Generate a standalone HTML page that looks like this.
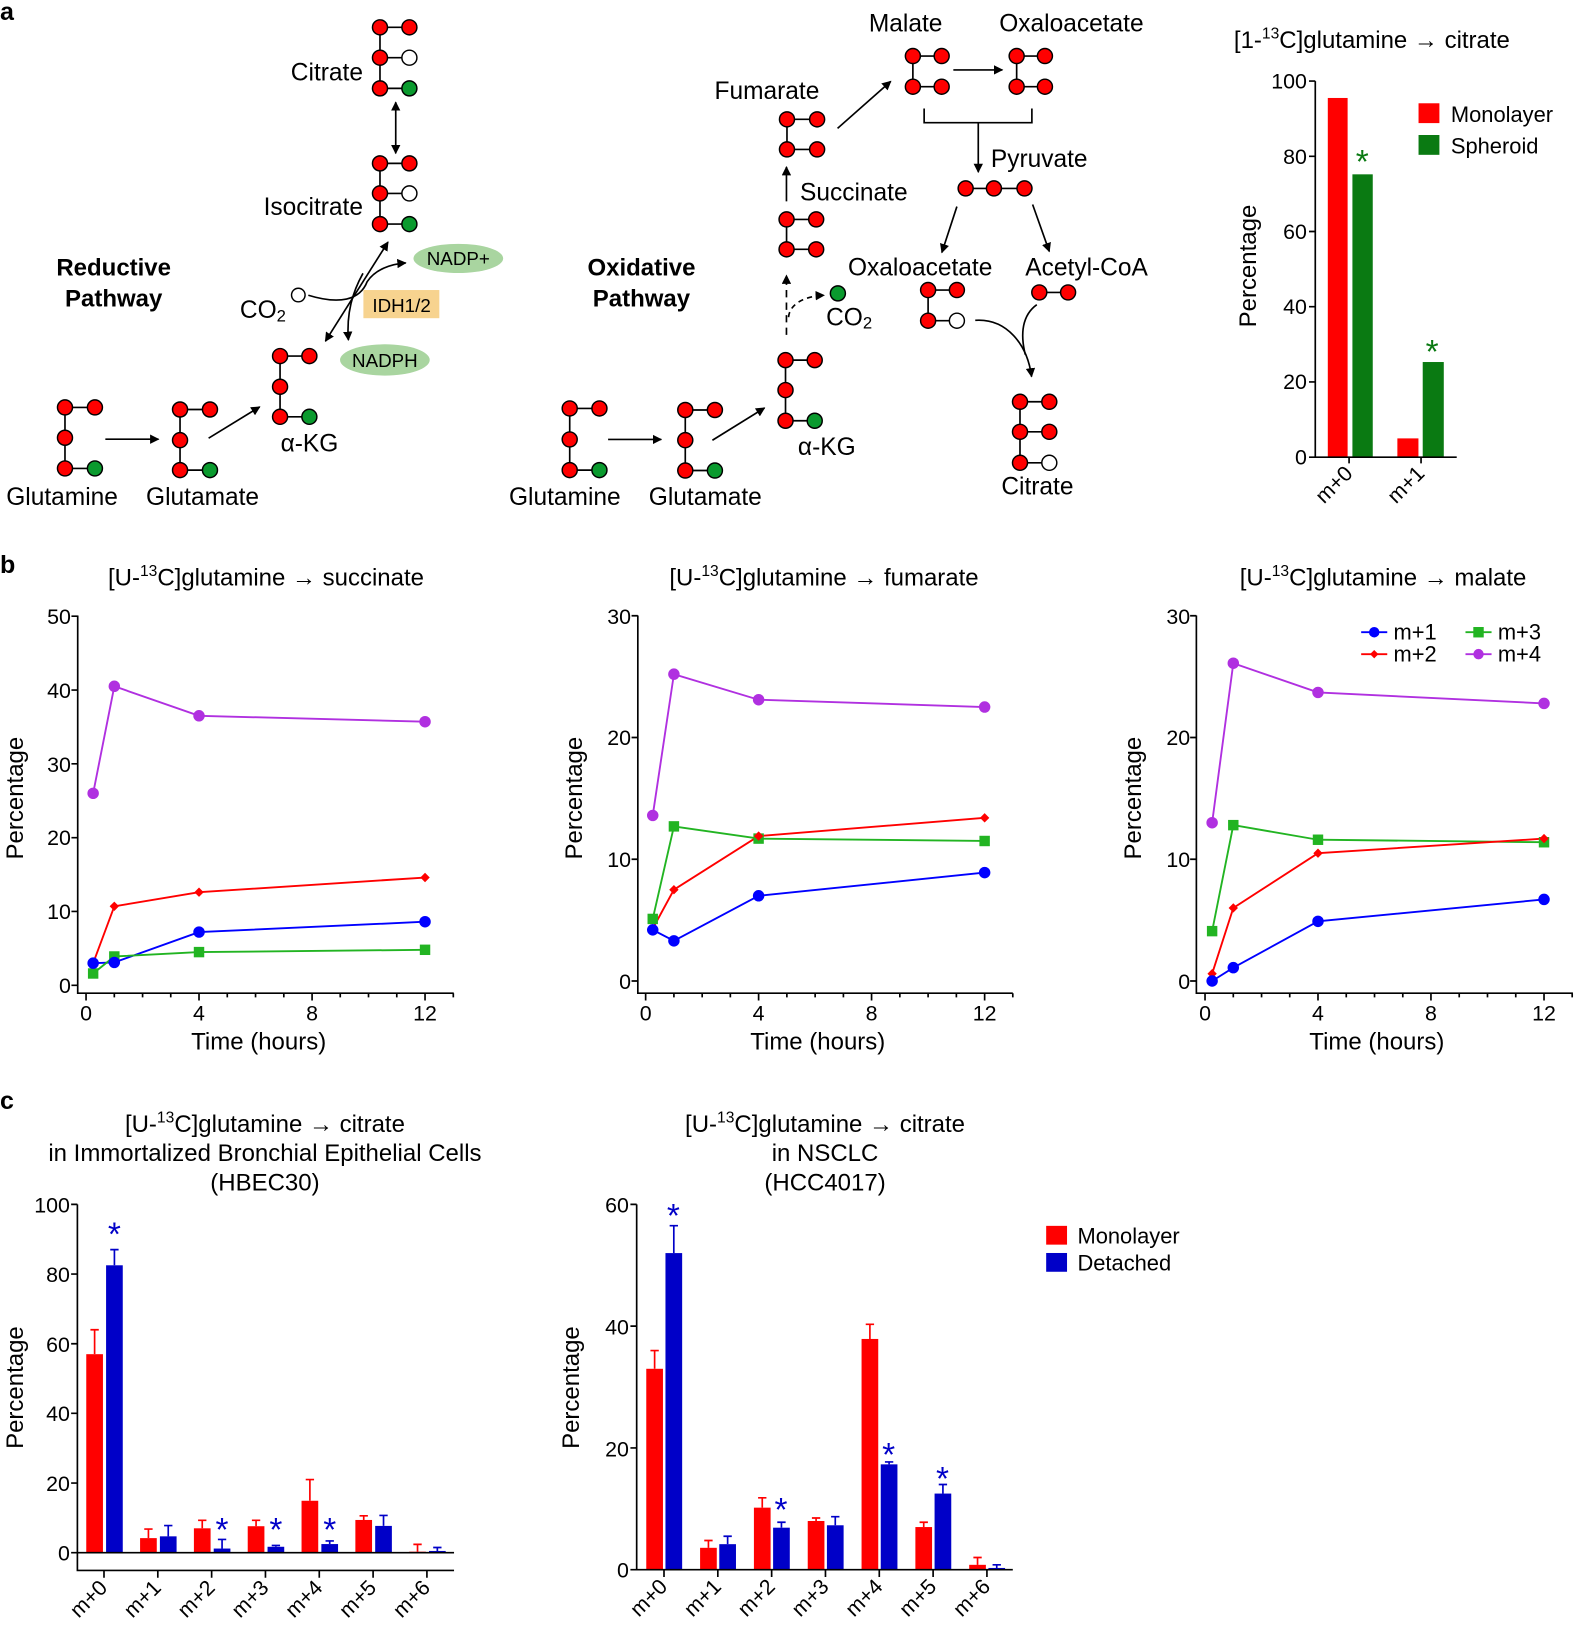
<!DOCTYPE html>
<html><head><meta charset="utf-8"><style>html,body{margin:0;padding:0;background:#fff}svg{display:block}</style></head><body>
<svg width="1575" height="1639" viewBox="0 0 1510 1571" preserveAspectRatio="none" xmlns="http://www.w3.org/2000/svg" font-family="Liberation Sans, Arial, sans-serif">
<defs>
<marker id="ah" viewBox="0 0 10 10" refX="9" refY="5" markerWidth="9" markerHeight="9" markerUnits="userSpaceOnUse" orient="auto-start-reverse"><path d="M0,0 L10,5 L0,10 z" fill="#000"/></marker>
</defs>
<rect width="1510" height="1571" fill="#fff"/>
<g font-weight="bold" font-size="24"><text x="0" y="19">a</text><text x="0" y="549">b</text><text x="0" y="1063">c</text></g>

<!-- ===== Reductive pathway ===== -->
<g stroke="#000" stroke-width="1.6" fill="none">
<path d="M62.3,390.5V449M62.3,390.5H91M62.3,449H91"/>
<path d="M172.6,392.5V450.6M172.6,392.5H201.3M172.6,450.6H201.3"/>
<path d="M268.5,341.3V399.5M268.5,341.3H296.6M268.5,399.5H296.6"/>
<path d="M364.3,156.6V214.8M364.3,156.6H392.5M364.3,185.4H392.5M364.3,214.8H392.5"/>
<path d="M364.3,26.2V84.7M364.3,26.2H392.5M364.3,55.3H392.5M364.3,84.7H392.5"/>
<path d="M101,421H152" marker-end="url(#ah)"/>
<path d="M200,420L249,390" marker-end="url(#ah)"/>
<path d="M379.4,98V147" marker-start="url(#ah)" marker-end="url(#ah)"/>
<path d="M312,327L372,232" marker-start="url(#ah)" marker-end="url(#ah)"/>
<path d="M295.6,283 C325,292 345,288 352,270 C360,258 375,253 389,252" marker-end="url(#ah)"/>
<path d="M348,262 C338,280 332,300 334,326" marker-end="url(#ah)"/>
</g>
<g stroke="#000" stroke-width="1.4">
<circle cx="62.3" cy="390.5" r="7.2" fill="#f00"/><circle cx="62.3" cy="419.6" r="7.2" fill="#f00"/><circle cx="62.3" cy="449" r="7.2" fill="#f00"/><circle cx="91" cy="390.5" r="7.2" fill="#f00"/><circle cx="91" cy="449" r="7.2" fill="#0a9a2e"/>
<circle cx="172.6" cy="392.5" r="7.2" fill="#f00"/><circle cx="172.6" cy="421.9" r="7.2" fill="#f00"/><circle cx="172.6" cy="450.6" r="7.2" fill="#f00"/><circle cx="201.3" cy="392.5" r="7.2" fill="#f00"/><circle cx="201.3" cy="450.6" r="7.2" fill="#0a9a2e"/>
<circle cx="268.5" cy="341.3" r="7.2" fill="#f00"/><circle cx="268.5" cy="370.7" r="7.2" fill="#f00"/><circle cx="268.5" cy="399.5" r="7.2" fill="#f00"/><circle cx="296.6" cy="341.3" r="7.2" fill="#f00"/><circle cx="296.6" cy="399.5" r="7.2" fill="#0a9a2e"/>
<circle cx="364.3" cy="156.6" r="7.2" fill="#f00"/><circle cx="364.3" cy="185.4" r="7.2" fill="#f00"/><circle cx="364.3" cy="214.8" r="7.2" fill="#f00"/><circle cx="392.5" cy="156.6" r="7.2" fill="#f00"/><circle cx="392.5" cy="185.4" r="7.2" fill="#fff"/><circle cx="392.5" cy="214.8" r="7.2" fill="#0a9a2e"/>
<circle cx="364.3" cy="26.2" r="7.2" fill="#f00"/><circle cx="364.3" cy="55.3" r="7.2" fill="#f00"/><circle cx="364.3" cy="84.7" r="7.2" fill="#f00"/><circle cx="392.5" cy="26.2" r="7.2" fill="#f00"/><circle cx="392.5" cy="55.3" r="7.2" fill="#fff"/><circle cx="392.5" cy="84.7" r="7.2" fill="#0a9a2e"/>
<circle cx="286" cy="282.8" r="6.5" fill="#fff"/>
</g>
<ellipse cx="439.4" cy="247.7" rx="43" ry="14" fill="#a9d5a0"/>
<ellipse cx="369" cy="345" rx="43" ry="15" fill="#a9d5a0"/>
<rect x="348.4" y="278" width="72.8" height="27" fill="#f7d38f"/>
<g font-size="23.5" fill="#000">
<text x="6" y="484">Glutamine</text><text x="140" y="484">Glutamate</text>
<text x="269" y="433">α-KG</text>
<text x="348" y="206" text-anchor="end">Isocitrate</text>
<text x="348" y="77" text-anchor="end">Citrate</text>
<text x="230" y="305">CO<tspan font-size="16" dy="3">2</tspan></text>
</g>
<g font-size="18" text-anchor="middle"><text x="385" y="299">IDH1/2</text><text x="439.4" y="254">NADP+</text><text x="369" y="352">NADPH</text></g>
<g font-size="23" font-weight="bold" text-anchor="middle"><text x="109" y="264">Reductive</text><text x="109" y="294">Pathway</text><text x="615" y="264">Oxidative</text><text x="615" y="294">Pathway</text></g>

<!-- ===== Oxidative pathway ===== -->
<g stroke="#000" stroke-width="1.6" fill="none">
<path d="M546.2,391.5V450.6M546.2,391.5H574.7M546.2,450.6H574.7"/>
<path d="M657,393V451M657,393H685.4M657,451H685.4"/>
<path d="M753.1,345.2V403.3M753.1,345.2H781.1M753.1,403.3H781.1"/>
<path d="M754.1,210.3V239M754.1,210.3H782.5M754.1,239H782.5"/>
<path d="M754.5,114.4V143.2M754.5,114.4H783.4M754.5,143.2H783.4"/>
<path d="M875.2,53.7V83.1M875.2,53.7H902.8M875.2,83.1H902.8"/>
<path d="M974.7,53.7V83.1M974.7,53.7H1001.8M974.7,83.1H1001.8"/>
<path d="M925.8,180.6H982.2"/>
<path d="M889.8,278V307.4M889.8,278H917.4M889.8,307.4H917.4"/>
<path d="M996.4,280.3H1024"/>
<path d="M977.9,385.1V443.6M977.9,385.1H1006M977.9,413.9H1006M977.9,443.6H1006"/>
<path d="M583,421.2H634" marker-end="url(#ah)"/>
<path d="M683,422L733,391" marker-end="url(#ah)"/>
<path d="M754,321V264" stroke-dasharray="7,5" marker-end="url(#ah)"/>
<path d="M756,304 C757,292 770,284 790,283" stroke-dasharray="5,4" marker-end="url(#ah)"/>
<path d="M754,193V160" marker-end="url(#ah)"/>
<path d="M803,123L854,78" marker-end="url(#ah)"/>
<path d="M914,67H961" marker-end="url(#ah)"/>
<path d="M886,104V117.6H989.3V104M937.9,117.6V165" marker-end="url(#ah)"/>
<path d="M917.4,198L903,242" marker-end="url(#ah)"/>
<path d="M990,196L1006,241" marker-end="url(#ah)"/>
<path d="M935,307 C965,305 985,330 989,361" marker-end="url(#ah)"/>
<path d="M994,292 C980,302 978,320 983,340"/>
</g>
<g stroke="#000" stroke-width="1.4">
<circle cx="546.2" cy="391.5" r="7.2" fill="#f00"/><circle cx="546.2" cy="421.2" r="7.2" fill="#f00"/><circle cx="546.2" cy="450.6" r="7.2" fill="#f00"/><circle cx="574.7" cy="391.5" r="7.2" fill="#f00"/><circle cx="574.7" cy="450.6" r="7.2" fill="#0a9a2e"/>
<circle cx="657" cy="393" r="7.2" fill="#f00"/><circle cx="657" cy="421.9" r="7.2" fill="#f00"/><circle cx="657" cy="451" r="7.2" fill="#f00"/><circle cx="685.4" cy="393" r="7.2" fill="#f00"/><circle cx="685.4" cy="451" r="7.2" fill="#0a9a2e"/>
<circle cx="753.1" cy="345.2" r="7.2" fill="#f00"/><circle cx="753.1" cy="373.9" r="7.2" fill="#f00"/><circle cx="753.1" cy="403.3" r="7.2" fill="#f00"/><circle cx="781.1" cy="345.2" r="7.2" fill="#f00"/><circle cx="781.1" cy="403.3" r="7.2" fill="#0a9a2e"/>
<circle cx="754.1" cy="210.3" r="7.2" fill="#f00"/><circle cx="754.1" cy="239" r="7.2" fill="#f00"/><circle cx="782.5" cy="210.3" r="7.2" fill="#f00"/><circle cx="782.5" cy="239" r="7.2" fill="#f00"/>
<circle cx="754.5" cy="114.4" r="7.2" fill="#f00"/><circle cx="754.5" cy="143.2" r="7.2" fill="#f00"/><circle cx="783.4" cy="114.4" r="7.2" fill="#f00"/><circle cx="783.4" cy="143.2" r="7.2" fill="#f00"/>
<circle cx="875.2" cy="53.7" r="7.2" fill="#f00"/><circle cx="875.2" cy="83.1" r="7.2" fill="#f00"/><circle cx="902.8" cy="53.7" r="7.2" fill="#f00"/><circle cx="902.8" cy="83.1" r="7.2" fill="#f00"/>
<circle cx="974.7" cy="53.7" r="7.2" fill="#f00"/><circle cx="974.7" cy="83.1" r="7.2" fill="#f00"/><circle cx="1001.8" cy="53.7" r="7.2" fill="#f00"/><circle cx="1001.8" cy="83.1" r="7.2" fill="#f00"/>
<circle cx="925.8" cy="180.6" r="7.2" fill="#f00"/><circle cx="952.9" cy="180.6" r="7.2" fill="#f00"/><circle cx="982.2" cy="180.6" r="7.2" fill="#f00"/>
<circle cx="889.8" cy="278" r="7.2" fill="#f00"/><circle cx="889.8" cy="307.4" r="7.2" fill="#f00"/><circle cx="917.4" cy="278" r="7.2" fill="#f00"/><circle cx="917.4" cy="307.4" r="7.2" fill="#fff"/>
<circle cx="996.4" cy="280.3" r="7.2" fill="#f00"/><circle cx="1024" cy="280.3" r="7.2" fill="#f00"/>
<circle cx="977.9" cy="385.1" r="7.2" fill="#f00"/><circle cx="977.9" cy="413.9" r="7.2" fill="#f00"/><circle cx="977.9" cy="443.6" r="7.2" fill="#f00"/><circle cx="1006" cy="385.1" r="7.2" fill="#f00"/><circle cx="1006" cy="413.9" r="7.2" fill="#f00"/><circle cx="1006" cy="443.6" r="7.2" fill="#fff"/>
<circle cx="803.3" cy="281.2" r="7.2" fill="#0a9a2e"/>
</g>
<g font-size="23.5">
<text x="488" y="484">Glutamine</text><text x="622" y="484">Glutamate</text>
<text x="765" y="436">α-KG</text>
<text x="792" y="312">CO<tspan font-size="16" dy="3">2</tspan></text>
<text x="767" y="192">Succinate</text>
<text x="685" y="95">Fumarate</text>
<text x="833" y="30">Malate</text>
<text x="958" y="30">Oxaloacetate</text>
<text x="950" y="160">Pyruvate</text>
<text x="813" y="264">Oxaloacetate</text>
<text x="983" y="264">Acetyl-CoA</text>
<text x="960" y="474">Citrate</text>
</g>

<!-- ===== a bar chart ===== -->
<text x="1183" y="46" font-size="23">[1-<tspan font-size="15" dy="-9">13</tspan><tspan dy="9">C]glutamine → citrate</tspan></text>
<rect x="1273" y="93.9" width="19" height="344.3" fill="#f00"/>
<rect x="1296.6" y="167.1" width="19.5" height="271.1" fill="#0a7a12"/>
<rect x="1339.7" y="420.2" width="20.2" height="18" fill="#f00"/>
<rect x="1364" y="347" width="20.2" height="91.2" fill="#0a7a12"/>
<g stroke="#000" stroke-width="1.6" fill="none"><path d="M1261,77.7V438.2H1396.6"/>
<path d="M1255,77.7h6M1255,149.8h6M1255,221.9h6M1255,294h6M1255,366.1h6M1255,438.2h6M1293.4,438.2v6M1362.4,438.2v6"/></g>
<g font-size="20.5" text-anchor="end"><text x="1253" y="85">100</text><text x="1253" y="157">80</text><text x="1253" y="229">60</text><text x="1253" y="301">40</text><text x="1253" y="373">20</text><text x="1253" y="445">0</text>
<text transform="translate(1298,455) rotate(-45)">m+0</text><text transform="translate(1367,455) rotate(-45)">m+1</text></g>
<text transform="translate(1204,255) rotate(-90)" font-size="23" text-anchor="middle">Percentage</text>
<g font-size="32" fill="#0a7a12" text-anchor="middle"><text x="1306" y="166">*</text><text x="1373" y="348">*</text></g>
<rect x="1360" y="99" width="20" height="19" fill="#f00"/><rect x="1360" y="129.4" width="20" height="19" fill="#0a7a12"/>
<g font-size="21"><text x="1391" y="117">Monolayer</text><text x="1391" y="147">Spheroid</text></g>

<!-- ===== b charts ===== -->
<g font-size="23" text-anchor="middle">
<text x="255" y="561">[U-<tspan font-size="15" dy="-9">13</tspan><tspan dy="9">C]glutamine → succinate</tspan></text>
<text x="790" y="561">[U-<tspan font-size="15" dy="-9">13</tspan><tspan dy="9">C]glutamine → fumarate</tspan></text>
<text x="1326" y="561">[U-<tspan font-size="15" dy="-9">13</tspan><tspan dy="9">C]glutamine → malate</tspan></text>
</g>
<g stroke="#000" stroke-width="1.6" fill="none">
<path d="M74.5,590V952H435"/>
<path d="M68.5,590.6h6M68.5,661.4h6M68.5,732.1h6M68.5,802.9h6M68.5,873.6h6M68.5,944.4h6"/>
<path d="M82.5,952v7M190.8,952v7M299.2,952v7M407.5,952v7"/>
<path d="M109.6,952v4M136.7,952v4M163.7,952v4M217.9,952v4M245,952v4M272.1,952v4M326.2,952v4M353.3,952v4M380.4,952v4M434.6,952v4"/>
<path d="M611.5,590V952H971"/>
<path d="M605.5,590.2h6M605.5,706.9h6M605.5,823.6h6M605.5,940.3h6"/>
<path d="M619,952v7M727.3,952v7M835.6,952v7M944,952v7"/>
<path d="M646.1,952v4M673.2,952v4M700.2,952v4M754.4,952v4M781.5,952v4M808.6,952v4M862.7,952v4M889.8,952v4M916.9,952v4M971,952v4"/>
<path d="M1147,590V952H1508"/>
<path d="M1141,590.2h6M1141,706.9h6M1141,823.6h6M1141,940.3h6"/>
<path d="M1155.3,952v7M1263.6,952v7M1371.9,952v7M1480.3,952v7"/>
<path d="M1182.4,952v4M1209.5,952v4M1236.5,952v4M1290.7,952v4M1317.8,952v4M1344.9,952v4M1399,952v4M1426.1,952v4M1453.2,952v4M1507.3,952v4"/>
</g>
<g font-size="20.5">
<g text-anchor="end"><text x="68" y="598">50</text><text x="68" y="669">40</text><text x="68" y="740">30</text><text x="68" y="810">20</text><text x="68" y="881">10</text><text x="68" y="952">0</text>
<text x="605" y="598">30</text><text x="605" y="714">20</text><text x="605" y="831">10</text><text x="605" y="948">0</text>
<text x="1141" y="598">30</text><text x="1141" y="714">20</text><text x="1141" y="831">10</text><text x="1141" y="948">0</text></g>
<g text-anchor="middle"><text x="82.5" y="978">0</text><text x="190.8" y="978">4</text><text x="299.2" y="978">8</text><text x="407.5" y="978">12</text>
<text x="619" y="978">0</text><text x="727.3" y="978">4</text><text x="835.6" y="978">8</text><text x="944" y="978">12</text>
<text x="1155.3" y="978">0</text><text x="1263.6" y="978">4</text><text x="1371.9" y="978">8</text><text x="1480.3" y="978">12</text></g>
</g>
<g font-size="23" text-anchor="middle"><text x="248" y="1006">Time (hours)</text><text x="784" y="1006">Time (hours)</text><text x="1320" y="1006">Time (hours)</text>
<text transform="translate(22,765) rotate(-90)">Percentage</text><text transform="translate(558,765) rotate(-90)">Percentage</text><text transform="translate(1094,765) rotate(-90)">Percentage</text></g>

<g fill="none" stroke-width="1.8">
<polyline stroke="#b030e0" points="89.3,760.4 109.6,657.8 190.8,686.1 407.5,691.8"/>
<polyline stroke="#f00" points="89.3,923.2 109.6,868.7 190.8,855.2 407.5,841.1"/>
<polyline stroke="#00f" points="89.3,923.2 109.6,922.5 190.8,893.4 407.5,883.5"/>
<polyline stroke="#22b422" points="89.3,933.1 109.6,916.8 190.8,912.6 407.5,910.4"/>
<polyline stroke="#b030e0" points="625.8,781.6 646.1,646.2 727.3,670.7 944,677.7"/>
<polyline stroke="#22b422" points="625.8,880.8 646.1,792.1 727.3,803.8 944,806.1"/>
<polyline stroke="#f00" points="625.8,890.1 646.1,852.8 727.3,801.4 944,783.9"/>
<polyline stroke="#00f" points="625.8,891.3 646.1,901.8 727.3,858.6 944,836.4"/>
<polyline stroke="#b030e0" points="1162.1,788.6 1182.4,635.7 1263.6,663.7 1480.3,674.2"/>
<polyline stroke="#22b422" points="1162.1,892.5 1182.4,790.9 1263.6,804.9 1480.3,807.3"/>
<polyline stroke="#f00" points="1162.1,933.3 1182.4,870.3 1263.6,817.8 1480.3,803.8"/>
<polyline stroke="#00f" points="1162.1,940.3 1182.4,927.5 1263.6,883.1 1480.3,862.1"/>
</g>
<g>
<g fill="#b030e0"><circle cx="89.3" cy="760.4" r="5.5"/><circle cx="109.6" cy="657.8" r="5.5"/><circle cx="190.8" cy="686.1" r="5.5"/><circle cx="407.5" cy="691.8" r="5.5"/>
<circle cx="625.8" cy="781.6" r="5.5"/><circle cx="646.1" cy="646.2" r="5.5"/><circle cx="727.3" cy="670.7" r="5.5"/><circle cx="944" cy="677.7" r="5.5"/>
<circle cx="1162.1" cy="788.6" r="5.5"/><circle cx="1182.4" cy="635.7" r="5.5"/><circle cx="1263.6" cy="663.7" r="5.5"/><circle cx="1480.3" cy="674.2" r="5.5"/></g>
<g fill="#22b422"><rect x="84.3" y="928.1" width="10" height="10"/><rect x="104.6" y="911.8" width="10" height="10"/><rect x="185.8" y="907.6" width="10" height="10"/><rect x="402.5" y="905.4" width="10" height="10"/>
<rect x="620.8" y="875.8" width="10" height="10"/><rect x="641.1" y="787.1" width="10" height="10"/><rect x="722.3" y="798.8" width="10" height="10"/><rect x="939" y="801.1" width="10" height="10"/>
<rect x="1157.1" y="887.5" width="10" height="10"/><rect x="1177.4" y="785.9" width="10" height="10"/><rect x="1258.6" y="799.9" width="10" height="10"/><rect x="1475.3" y="802.3" width="10" height="10"/></g>
<g fill="#f00"><path d="M89.3,918.7l4.5,4.5l-4.5,4.5l-4.5,-4.5z M109.6,864.2l4.5,4.5l-4.5,4.5l-4.5,-4.5z M190.8,850.7l4.5,4.5l-4.5,4.5l-4.5,-4.5z M407.5,836.6l4.5,4.5l-4.5,4.5l-4.5,-4.5z
M625.8,885.6l4.5,4.5l-4.5,4.5l-4.5,-4.5z M646.1,848.3l4.5,4.5l-4.5,4.5l-4.5,-4.5z M727.3,796.9l4.5,4.5l-4.5,4.5l-4.5,-4.5z M944,779.4l4.5,4.5l-4.5,4.5l-4.5,-4.5z
M1162.1,928.8l4.5,4.5l-4.5,4.5l-4.5,-4.5z M1182.4,865.8l4.5,4.5l-4.5,4.5l-4.5,-4.5z M1263.6,813.3l4.5,4.5l-4.5,4.5l-4.5,-4.5z M1480.3,799.3l4.5,4.5l-4.5,4.5l-4.5,-4.5z"/></g>
<g fill="#00f"><circle cx="89.3" cy="923.2" r="5.5"/><circle cx="109.6" cy="922.5" r="5.5"/><circle cx="190.8" cy="893.4" r="5.5"/><circle cx="407.5" cy="883.5" r="5.5"/>
<circle cx="625.8" cy="891.3" r="5.5"/><circle cx="646.1" cy="901.8" r="5.5"/><circle cx="727.3" cy="858.6" r="5.5"/><circle cx="944" cy="836.4" r="5.5"/>
<circle cx="1162.1" cy="940.3" r="5.5"/><circle cx="1182.4" cy="927.5" r="5.5"/><circle cx="1263.6" cy="883.1" r="5.5"/><circle cx="1480.3" cy="862.1" r="5.5"/></g>
</g>
<g stroke-width="1.8"><line x1="1305" y1="606" x2="1330" y2="606" stroke="#00f"/><circle cx="1317.5" cy="606" r="5" fill="#00f"/>
<line x1="1305" y1="627" x2="1330" y2="627" stroke="#f00"/><path d="M1317.5,623l4,4l-4,4l-4,-4z" fill="#f00"/>
<line x1="1405" y1="606" x2="1430" y2="606" stroke="#22b422"/><rect x="1412.5" y="601" width="10" height="10" fill="#22b422"/>
<line x1="1405" y1="627" x2="1430" y2="627" stroke="#b030e0"/><circle cx="1417.5" cy="627" r="5" fill="#b030e0"/></g>
<g font-size="21"><text x="1336" y="613">m+1</text><text x="1336" y="634">m+2</text><text x="1436" y="613">m+3</text><text x="1436" y="634">m+4</text></g>

<!-- ===== c charts ===== -->
<g font-size="23" text-anchor="middle">
<text x="254" y="1085">[U-<tspan font-size="15" dy="-9">13</tspan><tspan dy="9">C]glutamine → citrate</tspan></text>
<text x="254" y="1113">in Immortalized Bronchial Epithelial Cells</text>
<text x="254" y="1141">(HBEC30)</text>
<text x="791" y="1085">[U-<tspan font-size="15" dy="-9">13</tspan><tspan dy="9">C]glutamine → citrate</tspan></text>
<text x="791" y="1113">in NSCLC</text>
<text x="791" y="1141">(HCC4017)</text>
<text transform="translate(22,1330) rotate(-90)">Percentage</text>
<text transform="translate(555,1330) rotate(-90)">Percentage</text>
</g>
<g fill="#f00">
<rect x="82.7" y="1298" width="16" height="190.3"/><rect x="134.3" y="1474.3" width="16" height="14"/><rect x="185.9" y="1464.9" width="16" height="23.4"/><rect x="237.5" y="1462.9" width="16" height="25.4"/><rect x="289.1" y="1438.5" width="16" height="49.8"/><rect x="340.7" y="1456.9" width="16" height="31.4"/><rect x="392.3" y="1487.3" width="16" height="1"/>
</g>
<g fill="#0000c8">
<rect x="101.7" y="1212.8" width="16" height="275.5"/><rect x="153.3" y="1472.6" width="16" height="15.7"/><rect x="204.9" y="1484.3" width="16" height="4"/><rect x="256.5" y="1482.6" width="16" height="5.7"/><rect x="308.1" y="1480" width="16" height="8.3"/><rect x="359.7" y="1462.6" width="16" height="25.7"/><rect x="411.3" y="1486.6" width="16" height="1.7"/>
</g>
<g stroke="#f00" stroke-width="1.6" fill="none"><path d="M90.7,1298V1274.6m-4,0h8M142.3,1474.3V1465.6m-4,0h8M193.9,1464.9V1457.2m-4,0h8M245.5,1462.9V1457.2m-4,0h8M297.1,1438.5V1418.2m-4,0h8M348.7,1456.9V1452.9m-4,0h8M400.3,1487.3V1480.3m-4,0h8"/></g>
<g stroke="#0000c8" stroke-width="1.6" fill="none"><path d="M109.7,1212.8V1197.8m-4,0h8M161.3,1472.6V1462.3m-4,0h8M212.9,1484.3V1475.6m-4,0h8M264.5,1482.6V1481.3m-4,0h8M316.1,1480V1477m-4,0h8M367.7,1462.6V1452.6m-4,0h8M419.3,1486.6V1483.3m-4,0h8"/></g>
<g stroke="#000" stroke-width="1.6" fill="none">
<path d="M74.2,1154.4V1505.3H435.3M74.2,1488.3H435.3"/>
<path d="M68.2,1154.4h6M68.2,1221.2h6M68.2,1288h6M68.2,1354.7h6M68.2,1421.5h6M68.2,1488.3h6"/>
<path d="M99.7,1505.3v7M151.3,1505.3v7M202.9,1505.3v7M254.5,1505.3v7M306.1,1505.3v7M357.7,1505.3v7M409.3,1505.3v7"/>
</g>
<g font-size="20.5" text-anchor="end"><text x="67" y="1162">100</text><text x="67" y="1229">80</text><text x="67" y="1296">60</text><text x="67" y="1362">40</text><text x="67" y="1429">20</text><text x="67" y="1496">0</text>
<text transform="translate(104,1523) rotate(-45)">m+0</text><text transform="translate(155.6,1523) rotate(-45)">m+1</text><text transform="translate(207.2,1523) rotate(-45)">m+2</text><text transform="translate(258.8,1523) rotate(-45)">m+3</text><text transform="translate(310.4,1523) rotate(-45)">m+4</text><text transform="translate(362,1523) rotate(-45)">m+5</text><text transform="translate(413.6,1523) rotate(-45)">m+6</text></g>
<g font-size="32" fill="#0000c8" text-anchor="middle"><text x="109.7" y="1194">*</text><text x="212.9" y="1477">*</text><text x="264.5" y="1477">*</text><text x="316.1" y="1477">*</text>
<text x="645.6" y="1176">*</text><text x="748.8" y="1458">*</text><text x="852" y="1405">*</text><text x="903.6" y="1428">*</text></g>
<g fill="#f00">
<rect x="619.6" y="1312" width="16" height="192.6"/><rect x="671.2" y="1483.6" width="16" height="21"/><rect x="722.8" y="1445.1" width="16" height="59.5"/><rect x="774.4" y="1457.9" width="16" height="46.7"/><rect x="826" y="1283.4" width="16" height="221.2"/><rect x="877.6" y="1463.7" width="16" height="40.9"/><rect x="929.2" y="1499.9" width="16" height="4.7"/>
</g>
<g fill="#0000c8">
<rect x="638" y="1201.1" width="16" height="303.5"/><rect x="689.6" y="1480.1" width="16" height="24.5"/><rect x="741.2" y="1464.3" width="16" height="40.3"/><rect x="792.8" y="1462" width="16" height="42.6"/><rect x="844.4" y="1403.6" width="16" height="101"/><rect x="896" y="1431.6" width="16" height="73"/><rect x="947.6" y="1502.9" width="16" height="1.7"/>
</g>
<g stroke="#f00" stroke-width="1.6" fill="none"><path d="M627.6,1312V1294.5m-4,0h8M679.2,1483.6V1476.6m-4,0h8M730.8,1445.1V1435.7m-4,0h8M782.4,1457.9V1455m-4,0h8M834,1283.4V1269.4m-4,0h8M885.6,1463.7V1459.1m-4,0h8M937.2,1499.9V1492.9m-4,0h8"/></g>
<g stroke="#0000c8" stroke-width="1.6" fill="none"><path d="M646,1201.1V1174.8m-4,0h8M697.6,1480.1V1472.5m-4,0h8M749.2,1464.3V1459.1m-4,0h8M800.8,1462V1453.8m-4,0h8M852.4,1403.6V1401.3m-4,0h8M904,1431.6V1422.9m-4,0h8M955.6,1502.9V1499.9m-4,0h8"/></g>
<g stroke="#000" stroke-width="1.6" fill="none">
<path d="M610.4,1154.4V1504.6H971"/>
<path d="M604.4,1154.4h6M604.4,1271.1h6M604.4,1387.9h6M604.4,1504.6h6"/>
<path d="M636.6,1504.6v7M688.2,1504.6v7M739.8,1504.6v7M791.4,1504.6v7M843,1504.6v7M894.6,1504.6v7M946.2,1504.6v7"/>
</g>
<g font-size="20.5" text-anchor="end"><text x="603" y="1162">60</text><text x="603" y="1279">40</text><text x="603" y="1396">20</text><text x="603" y="1512">0</text>
<text transform="translate(641,1522) rotate(-45)">m+0</text><text transform="translate(692.6,1522) rotate(-45)">m+1</text><text transform="translate(744.2,1522) rotate(-45)">m+2</text><text transform="translate(795.8,1522) rotate(-45)">m+3</text><text transform="translate(847.4,1522) rotate(-45)">m+4</text><text transform="translate(899,1522) rotate(-45)">m+5</text><text transform="translate(950.6,1522) rotate(-45)">m+6</text></g>
<rect x="1003" y="1175" width="20" height="18" fill="#f00"/><rect x="1003" y="1201" width="20" height="18" fill="#0000c8"/>
<g font-size="21"><text x="1033" y="1192">Monolayer</text><text x="1033" y="1218">Detached</text></g>
</svg>
</body></html>
